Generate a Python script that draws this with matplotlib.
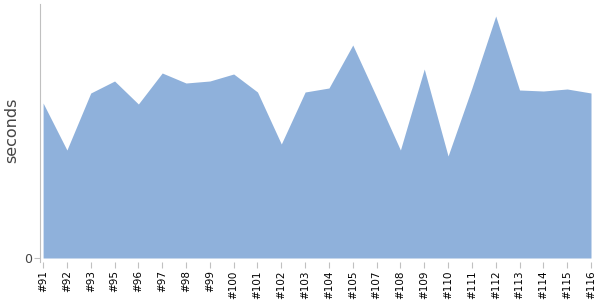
import matplotlib.pyplot as plt
import numpy as np

# build labels and durations
builds = ['#91', '#92', '#93', '#95', '#96', '#97', '#98', '#99', '#100', '#101',
          '#102', '#103', '#104', '#105', '#107', '#108', '#109', '#110', '#111',
          '#112', '#113', '#114', '#115', '#116']
seconds = [1.55, 1.08, 1.65, 1.77, 1.54, 1.85, 1.75, 1.77, 1.84, 1.66,
           1.14, 1.66, 1.70, 2.13, 1.61, 1.08, 1.89, 1.02, 1.70,
           2.42, 1.68, 1.67, 1.69, 1.65]

fig = plt.figure(figsize=(6, 3), dpi=100)
ax = fig.add_axes([40 / 600, 1 - 262 / 300, 551 / 600, 258 / 300])

x = np.arange(len(builds))
ax.fill_between(x, 0, seconds, color='#8fb1db', linewidth=0)

ax.set_xlim(-0.13, len(builds) - 1)
ax.set_ylim(-0.04, 2.54)
ax.set_xticks(x)
ax.set_xticklabels(builds, rotation=90, fontsize=7.5)
ax.set_yticks([0])
ax.set_yticklabels(['0'], fontsize=9, color='#444444')
ax.set_ylabel('seconds', fontsize=11.5, color='#444444')
ax.yaxis.set_label_coords(-0.037, 0.51)

for s in ['top', 'right', 'bottom']:
    ax.spines[s].set_visible(False)
ax.spines['left'].set_color('#c0c0c0')
ax.tick_params(axis='x', colors='#c0c0c0', labelcolor='black', length=4, pad=2)
ax.tick_params(axis='y', colors='#c0c0c0', labelcolor='#444444', length=4, pad=2)

fig.savefig('out.png', dpi=100)
